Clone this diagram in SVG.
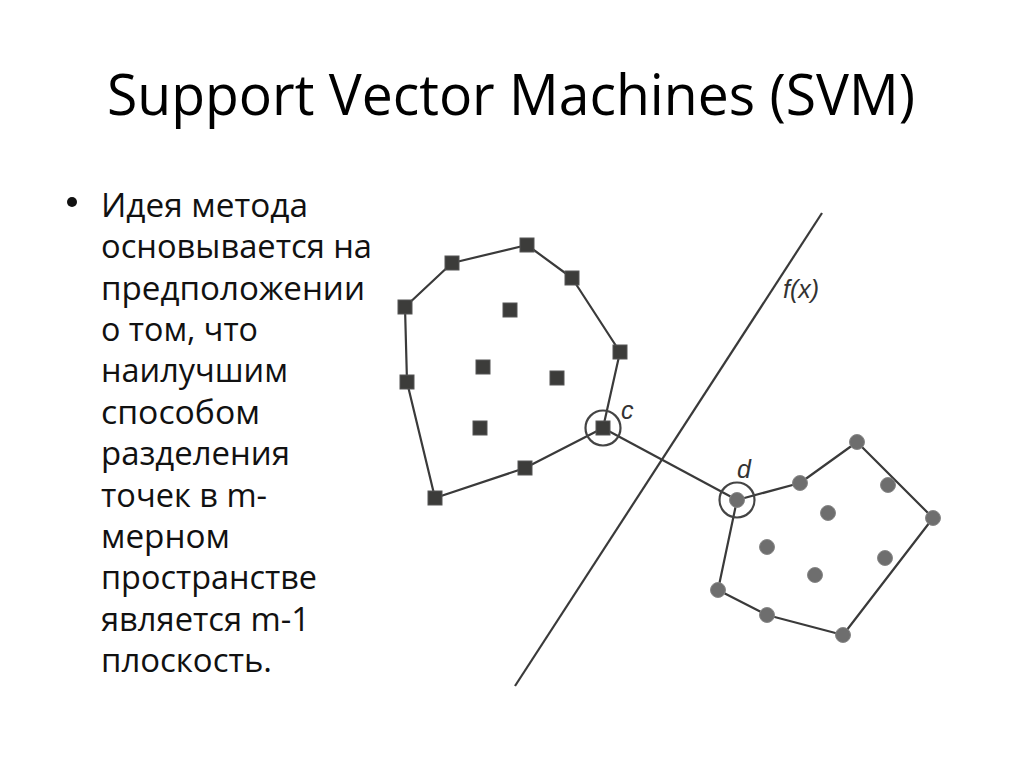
<svg xmlns="http://www.w3.org/2000/svg" width="1024" height="768" viewBox="0 0 1024 768">
<style>
.title{font-family:"Open Sans","Liberation Sans",sans-serif;font-size:56px;fill:#000}
.body{font-family:"Open Sans","Liberation Sans",sans-serif;font-size:32px;fill:#111}
.lbl{font-family:"Liberation Sans","DejaVu Sans",sans-serif;font-style:italic;font-size:25px;fill:#333}
.edge{fill:none;stroke:#3a3a3a;stroke-width:2.2;stroke-linejoin:round}
.sq{fill:#3c3c3a;stroke:#555;stroke-width:1}
.dot{fill:#6e6e6e;stroke:#888;stroke-width:1}
.ring{fill:none;stroke:#444;stroke-width:2.2}
</style>
<defs>
<rect id="s" x="-7" y="-7" width="14" height="14" class="sq"/>
<circle id="p" r="7.5" class="dot"/>
</defs>
<rect width="1024" height="768" fill="#fff"/>
<text class="title" x="107" y="115" textLength="808" lengthAdjust="spacingAndGlyphs">Support Vector Machines (SVM)</text>
<g id="bullet-text">
<circle cx="72" cy="202" r="5" fill="#111"/>
<text class="body" x="101" y="217" textLength="207" lengthAdjust="spacingAndGlyphs">Идея метода</text>
<text class="body" x="101" y="258" textLength="271" lengthAdjust="spacingAndGlyphs">основывается на</text>
<text class="body" x="101" y="300" textLength="264" lengthAdjust="spacingAndGlyphs">предположении</text>
<text class="body" x="101" y="341" textLength="157" lengthAdjust="spacingAndGlyphs">о том, что</text>
<text class="body" x="101" y="382" textLength="187" lengthAdjust="spacingAndGlyphs">наилучшим</text>
<text class="body" x="101" y="424" textLength="159" lengthAdjust="spacingAndGlyphs">способом</text>
<text class="body" x="101" y="465" textLength="189" lengthAdjust="spacingAndGlyphs">разделения</text>
<text class="body" x="101" y="507" textLength="166" lengthAdjust="spacingAndGlyphs">точек в m-</text>
<text class="body" x="101" y="548" textLength="129" lengthAdjust="spacingAndGlyphs">мерном</text>
<text class="body" x="101" y="589" textLength="216" lengthAdjust="spacingAndGlyphs">пространстве</text>
<text class="body" x="101" y="631" textLength="209" lengthAdjust="spacingAndGlyphs">является m-1</text>
<text class="body" x="101" y="672" textLength="171" lengthAdjust="spacingAndGlyphs">плоскость.</text>
</g>
<g id="connectors">
<polygon class="edge" points="527,245 572,278 620,352 603,428 525,468 435,498 407,382 405,307 452,263"/>
<polygon class="edge" points="737,500 800,483 857,442 933,518 843,635 767,615 718,590"/>
<line class="edge" x1="603" y1="428" x2="737" y2="500"/>
<line class="edge" x1="822" y1="213" x2="515" y2="686"/>
</g>
<g id="hyperplane-label"><text class="lbl" x="783" y="298">f(x)</text></g>
<g id="class-squares">
<use href="#s" x="527" y="245"/><use href="#s" x="452" y="263"/><use href="#s" x="572" y="278"/>
<use href="#s" x="405" y="307"/><use href="#s" x="620" y="352"/><use href="#s" x="407" y="382"/>
<use href="#s" x="525" y="468"/><use href="#s" x="435" y="498"/>
<use href="#s" x="510" y="310"/><use href="#s" x="483" y="367"/><use href="#s" x="557" y="378"/><use href="#s" x="480" y="428"/>
</g>
<g id="node-c">
<use href="#s" x="603" y="428"/>
<circle class="ring" cx="603" cy="428" r="17.5"/>
<text class="lbl" x="621" y="419">c</text>
</g>
<g id="class-circles">
<use href="#p" x="800" y="483"/><use href="#p" x="857" y="442"/><use href="#p" x="933" y="518"/>
<use href="#p" x="843" y="635"/><use href="#p" x="767" y="615"/><use href="#p" x="718" y="590"/>
<use href="#p" x="888" y="485"/><use href="#p" x="828" y="513"/><use href="#p" x="767" y="547"/>
<use href="#p" x="815" y="575"/><use href="#p" x="885" y="558"/>
</g>
<g id="node-d">
<use href="#p" x="737" y="500"/>
<circle class="ring" cx="737" cy="500" r="17.5"/>
<text class="lbl" x="737" y="478">d</text>
</g>
</svg>
